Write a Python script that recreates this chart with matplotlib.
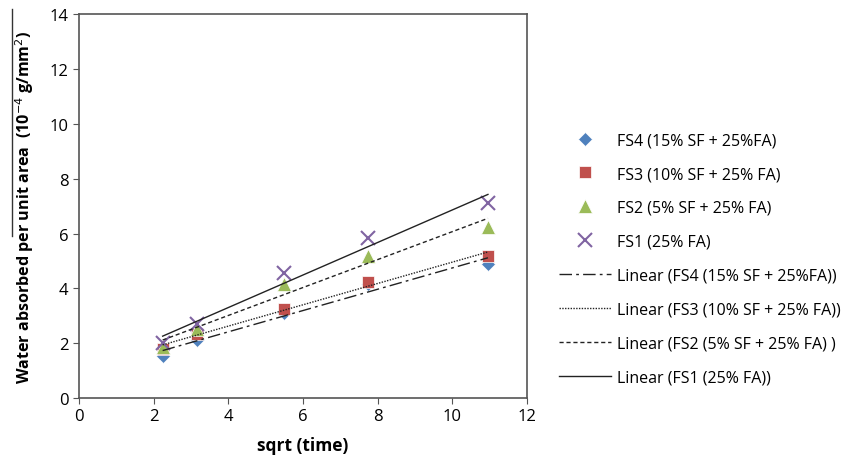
import numpy as np
import matplotlib.pyplot as plt
from matplotlib.lines import Line2D

plt.rcParams['font.family'] = ['Open Sans', 'DejaVu Sans']

# sqrt(time) values
x = [2.24, 3.16, 5.48, 7.75, 10.95]

fs4 = [1.55, 2.10, 3.10, 4.15, 4.90]
fs3 = [1.80, 2.35, 3.25, 4.25, 5.20]
fs2 = [1.85, 2.50, 4.15, 5.20, 6.25]
fs1 = [2.00, 2.70, 4.55, 5.85, 7.10]

labels = ['FS4 (15% SF + 25%FA)', 'FS3 (10% SF + 25% FA)',
          'FS2 (5% SF + 25% FA)', 'FS1 (25% FA)']
lin_labels = ['Linear (FS4 (15% SF + 25%FA))', 'Linear (FS3 (10% SF + 25% FA))',
              'Linear (FS2 (5% SF + 25% FA) )', 'Linear (FS1 (25% FA))']

fig = plt.figure(figsize=(8.44, 4.6), dpi=100)
ax = fig.add_axes([0.0936, 0.1326, 0.531, 0.834])

series = [fs4, fs3, fs2, fs1]
colors = ['#4F81BD', '#C0504D', '#9BBB59', '#8064A2']
markers = ['D', 's', '^', 'x']
msizes = [7, 9, 10, 10]
styles = [(0, (9, 3, 2, 3)), (0, (1, 1)), (0, (3, 2)), '-']

pts = []
for y, c, m, s, lab in zip(series, colors, markers, msizes, labels):
    if m == 'x':
        h, = ax.plot(x, y, ls='none', marker=m, ms=s, mew=1.5, color=c, label=lab)
    else:
        h, = ax.plot(x, y, ls='none', marker=m, ms=s, color=c, mec='white', mew=0.5, label=lab)
    pts.append(h)

xa = np.array(x)
lines = []
for y, ls, lab in zip(series, styles, lin_labels):
    k, b = np.polyfit(xa, np.array(y), 1)
    xx = np.array([xa[0], xa[-1]])
    h, = ax.plot(xx, k * xx + b, color='#222222', lw=1, ls=ls, label=lab)
    lines.append(h)

ax.set_xlim(0, 12)
ax.set_ylim(0, 14)
ax.set_xticks(range(0, 13, 2))
ax.set_yticks(range(0, 15, 2))
ax.tick_params(labelsize=12, direction='out', length=4, color='#555555')
for sp in ax.spines.values():
    sp.set_color('#555555')
    sp.set_linewidth(1.2)

ax.set_xlabel('sqrt (time)', fontsize=12.5, fontweight='bold', labelpad=8)
ax.set_ylabel('Water absorbed per unit area  (10$^{-4}$ g/mm$^{2}$)',
              fontsize=11.6, fontweight='bold', labelpad=10)

# overline on the y label
fig.add_artist(Line2D([12/844, 12/844], [1 - 10/460, 1 - 237/460], color='#333333', lw=1))

ax.legend(handles=pts + lines, loc='center left', bbox_to_anchor=(1.04, 0.363),
          frameon=False, fontsize=11.5, labelspacing=1.12, handlelength=3.2,
          handletextpad=0.4)

fig.savefig('out.png', dpi=100)
